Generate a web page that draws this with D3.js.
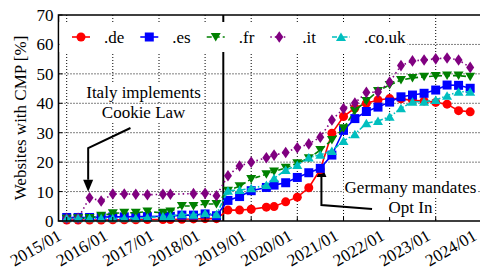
<!DOCTYPE html>
<html>
<head>
<meta charset="utf-8">
<script src="https://cdn.jsdelivr.net/npm/d3@7"></script>
<style>
  body { margin: 0; background: #fff; }
  svg text { font-family: "Liberation Serif", "DejaVu Serif", serif; fill: #000; }
</style>
</head>
<body>
<div id="chart"></div>
<script>
// snapshot dates (shared by all series)
const dates = ["2015-01","2015-04","2015-07","2015-10","2016-01","2016-04","2016-07","2016-10",
  "2017-02","2017-04","2017-07","2017-10","2018-01","2018-04","2018-07","2018-10",
  "2019-01","2019-05","2019-07","2019-10","2020-01","2020-04","2020-07","2020-10",
  "2021-01","2021-04","2021-07","2021-10","2022-01","2022-04","2022-07","2022-10",
  "2023-01","2023-04","2023-07","2023-10"];

const deVals = [0.3,0.3,0.3,0.3,0.4,0.4,0.4,0.5, 0.5,0.5,0.6,0.7,0.8,0.8,3.7,3.7,
  4.0,4.7,4.9,6.5,8.1,11.3,17.5,29.8, 35.5,38.4,40.0,41.1,41.6,41.5,41.0,40.8,
  40.3,39.7,37.5,37.1];
const esVals = [1.2,1.2,1.2,1.3,1.4,1.4,1.5,1.5, 1.6,1.6,2.0,2.0,2.4,1.8,7.0,8.3,
  10.3,11.4,12.2,13.0,14.8,16.4,17.9,22.4, 30.8,34.8,37.2,38.7,40.4,42.2,42.8,43.4,
  44.5,46.2,46.1,45.1];
const frVals = [0.8,0.9,1.0,1.8,2.6,2.8,2.8,3.2, 2.8,3.2,5.1,5.1,5.8,5.8,10.3,11.8,
  14.3,15.9,16.8,18.1,19.6,21.3,24.1,27.5, 31.5,37.5,40.8,44.2,46.2,47.9,48.6,49.0,
  49.3,49.4,49.4,49.0];
// no .it snapshot for 2017-07
const itVals = [0.9,0.9,7.9,6.8,9.2,9.2,9.1,8.9, 9.1,9.1,null,9.3,9.4,8.6,15.4,18.7,
  20.0,21.5,22.4,23.3,24.9,26.2,28.5,34.3, 38.2,40.1,43.7,43.8,47.2,52.8,54.4,54.7,
  55.1,55.4,54.7,52.2];
const ukVals = [0.9,0.9,0.9,0.9,0.9,0.9,0.9,1.2, 1.5,1.7,2.3,2.1,2.6,2.3,10.3,10.5,
  11.1,12.2,14.5,17.3,19.0,21.6,22.5,23.8, 27.2,29.5,33.2,34.0,35.4,38.3,40.5,40.5,
  41.1,42.6,43.9,43.9];

const seriesNames = [".de", ".es", ".fr", ".it", ".co.uk"];
const yTicks = [0, 10, 20, 30, 40, 50, 60, 70];
const xTickLabels = ["2015/01","2016/01","2017/01","2018/01","2019/01","2020/01","2021/01","2022/01","2023/01","2024/01"];
const gdprDate = "2018-05-25";

const W = 480, H = 270;
const parseM = d3.timeParse("%Y-%m");
const parseD = d3.timeParse("%Y-%m-%d");
const parseT = d3.timeParse("%Y/%m");

const x = d3.scaleTime()
  .domain([parseT("2015/01"), parseT("2024/01")])
  .range([66.7, 481.8]);
const y = d3.scaleLinear().domain([0, 70]).range([221, 15]);
const left = 58.5, right = 492;

const svg = d3.select("#chart").append("svg")
  .attr("width", W).attr("height", H);
svg.append("rect").attr("width", W).attr("height", H).attr("fill", "#fff");

// grid
const grid = svg.append("g").attr("stroke", "#000").attr("stroke-width", 1)
  .attr("stroke-dasharray", "1,2");
grid.selectAll("line.v").data(xTickLabels).enter().append("line")
  .attr("x1", d => x(parseT(d))).attr("x2", d => x(parseT(d)))
  .attr("y1", y(70)).attr("y2", y(0));
grid.selectAll("line.h").data(yTicks.slice(1, -1)).enter().append("line")
  .attr("x1", left).attr("x2", right)
  .attr("y1", d => y(d)).attr("y2", d => y(d));

// GDPR line
svg.append("line")
  .attr("x1", x(parseD(gdprDate))).attr("x2", x(parseD(gdprDate)))
  .attr("y1", y(70)).attr("y2", y(0))
  .attr("stroke", "#000").attr("stroke-width", 2);

// annotations (text on white boxes, one per line)
const notes = [
  { text: "Italy implements", date: "2016-09-01", v: 41.9 },
  { text: "Cookie Law", date: "2016-09-01", v: 35.0 },
  { text: "Germany mandates", date: "2022-06-15", v: 9.4 },
  { text: "Opt In", date: "2022-06-15", v: 2.6 }
];
const noteG = svg.append("g");
notes.forEach(n => {
  const t = noteG.append("text")
    .attr("x", x(parseD(n.date))).attr("y", y(n.v))
    .attr("text-anchor", "middle").style("font-size", "17px").text(n.text);
  const b = t.node().getBBox();
  noteG.insert("rect", "text")
    .attr("x", b.x - 1).attr("y", b.y + 1).attr("width", b.width + 2).attr("height", b.height - 1)
    .attr("fill", "#fff");
});

// arrows
const arrows = [
  [["2016-05-20", 31.6], ["2015-06-20", 24.8], ["2015-06-20", 9.9]],
  [["2021-08-15", 4.1], ["2020-07-10", 5.4], ["2020-07-10", 19.0]]
];
const arrowG = svg.append("g");
arrows.forEach(pts => {
  const p = pts.map(d => [x(parseD(d[0])), y(d[1])]);
  const tip = p[2], prev = p[1];
  const dir = Math.sign(tip[1] - prev[1]);
  const headLen = 12, headW = 5;
  arrowG.append("path")
    .attr("d", d3.line()([p[0], p[1], [tip[0], tip[1] - dir * headLen]]))
    .attr("fill", "none").attr("stroke", "#000").attr("stroke-width", 2);
  arrowG.append("path")
    .attr("d", `M${tip[0]},${tip[1]} L${tip[0] - headW},${tip[1] - dir * headLen} L${tip[0] + headW},${tip[1] - dir * headLen}Z`)
    .attr("fill", "#000");
});

// marker shapes
const shapes = {
  circle: "M4.5,0A4.5,4.5 0 1,1 -4.5,0A4.5,4.5 0 1,1 4.5,0Z",
  square: "M-4.5,-4.5H4.5V4.5H-4.5Z",
  down: "M-5,-4L5,-4L0,4.5Z",
  diamond: "M0,-5.8L4,0L0,5.8L-4,0Z",
  up: "M-5,4L5,4L0,-4.5Z"
};

const series = [
  { name: seriesNames[0], values: deVals, color: "#ff0000", dash: null, shape: "circle" },
  { name: seriesNames[1], values: esVals, color: "#0000ff", dash: null, shape: "square" },
  { name: seriesNames[2], values: frVals, color: "#008000", dash: "5,3", shape: "down" },
  { name: seriesNames[3], values: itVals, color: "#800080", dash: "1.5,3", shape: "diamond" },
  { name: seriesNames[4], values: ukVals, color: "#00bfbf", dash: "5,2,1.5,2", shape: "up" }
];

const line = d3.line().x(d => x(d.date)).y(d => y(d.v));
series.forEach(s => {
  const pts = dates.map((d, i) => ({ date: parseM(d), v: s.values[i] }))
    .filter(d => d.v !== null);
  const g = svg.append("g");
  g.append("path").datum(pts)
    .attr("d", line).attr("fill", "none")
    .attr("stroke", s.color).attr("stroke-width", 1.6)
    .attr("stroke-dasharray", s.dash);
  g.selectAll("path.m").data(pts).enter().append("path")
    .attr("class", "m")
    .attr("d", shapes[s.shape])
    .attr("transform", d => `translate(${x(d.date)},${y(d.v)})`)
    .attr("fill", s.color);
});

// frame
svg.append("path")
  .attr("d", `M${right},${y(70)}H${left}V${y(0)}H${right}`)
  .attr("fill", "none").attr("stroke", "#000").attr("stroke-width", 1.6);

// ticks (inward)
svg.append("g").selectAll("line").data(yTicks).enter().append("line")
  .attr("x1", left).attr("x2", left + 4)
  .attr("y1", d => y(d)).attr("y2", d => y(d))
  .attr("stroke", "#000").attr("stroke-width", 1);
svg.append("g").selectAll("line").data(xTickLabels).enter().append("line")
  .attr("x1", d => x(parseT(d))).attr("x2", d => x(parseT(d)))
  .attr("y1", y(0)).attr("y2", y(0) - 4)
  .attr("stroke", "#000").attr("stroke-width", 1);

// tick labels
svg.append("g").selectAll("text").data(yTicks).enter().append("text")
  .attr("x", left - 5).attr("y", d => y(d)).attr("dy", "0.35em")
  .attr("text-anchor", "end").style("font-size", "17px").text(d => d);
svg.append("g").selectAll("text").data(xTickLabels).enter().append("text")
  .attr("transform", d => `translate(${x(parseT(d)) - 4},${239}) rotate(-30)`)
  .attr("text-anchor", "end").style("font-size", "17px").text(d => d);

// y axis title
svg.append("text")
  .attr("transform", `translate(20,${(y(0) + y(70)) / 2}) rotate(-90)`)
  .attr("text-anchor", "middle").attr("dy", "0.35em")
  .style("font-size", "17px").text("Websites with CMP [%]");

// legend
const leg = svg.append("g");
leg.append("rect").attr("x", left + 1).attr("y", 22).attr("width", 348).attr("height", 30).attr("fill", "#fff");
let lx = 81;
series.forEach(s => {
  leg.append("line").attr("x1", lx - 9).attr("x2", lx + 9).attr("y1", 37).attr("y2", 37)
    .attr("stroke", s.color).attr("stroke-width", 1.6).attr("stroke-dasharray", s.dash);
  leg.append("path").attr("d", shapes[s.shape]).attr("transform", `translate(${lx},37)`).attr("fill", s.color);
  const t = leg.append("text").attr("x", lx + 23).attr("y", 37).attr("dy", "0.35em")
    .style("font-size", "17px").text(s.name);
  lx = lx + 23 + t.node().getComputedTextLength() + 25;
});
</script>
</body>
</html>
